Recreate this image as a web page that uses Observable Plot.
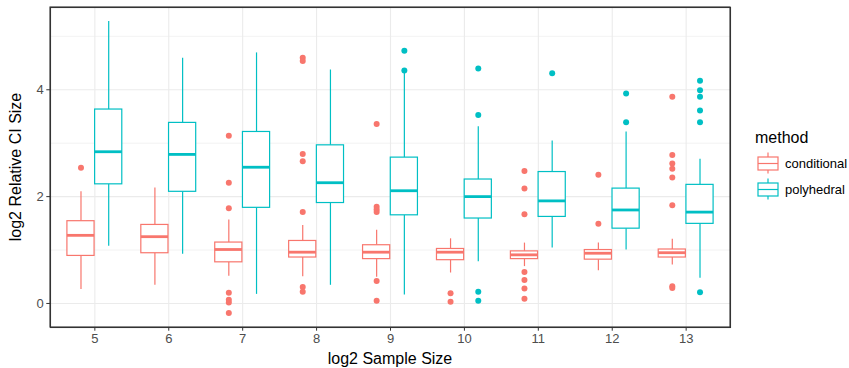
<!DOCTYPE html>
<html>
<head>
<meta charset="utf-8">
<script src="https://cdn.jsdelivr.net/npm/d3@7"></script>
<script src="https://cdn.jsdelivr.net/npm/@observablehq/plot@0.6"></script>
<style>
  html, body { margin: 0; padding: 0; background: #fff; overflow: hidden; }
  #chart { width: 849px; height: 368px; }
  #chart svg { display: block; max-width: none; }
</style>
</head>
<body>
<div id="chart"></div>
<script>
// ---- data ----
const sizes = [5, 6, 7, 8, 9, 10, 11, 12, 13];
const methods = ["conditional", "polyhedral"];
const colors = ["#F8766D", "#00BFC4"];

const condLo  = [0.26, 0.34, 0.51, 0.50, 0.49, 0.57, 0.69, 0.61, 0.72];
const condQ1  = [0.89, 0.94, 0.77, 0.86, 0.83, 0.81, 0.83, 0.82, 0.86];
const condMed = [1.275, 1.25, 1.01, 0.96, 0.96, 0.96, 0.91, 0.94, 0.95];
const condQ3  = [1.54, 1.47, 1.14, 1.17, 1.09, 1.02, 0.975, 1.00, 1.01];
const condHi  = [2.09, 2.16, 1.56, 1.46, 1.37, 1.21, 1.13, 1.13, 1.20];
const condOut = [
  [2.54], [], [3.14, 2.26, 1.78, 0.2, 0.07, 0.02, -0.18],
  [4.60, 4.54, 2.80, 2.66, 1.71, 0.31, 0.22],
  [3.36, 1.81, 1.76, 1.71, 0.42, 0.05], [0.19, 0.03],
  [2.48, 2.15, 1.67, 0.59, 0.44, 0.28, 0.09], [2.41, 1.49],
  [3.87, 2.78, 2.62, 2.52, 2.36, 1.84, 0.32, 0.29]
];

const polyLo  = [1.07, 0.92, 0.17, 0.34, 0.16, 0.78, 1.04, 1.00, 0.47];
const polyQ1  = [2.23, 2.09, 1.79, 1.88, 1.65, 1.59, 1.62, 1.40, 1.49];
const polyMed = [2.84, 2.79, 2.55, 2.26, 2.11, 2.00, 1.92, 1.75, 1.71];
const polyQ3  = [3.63, 3.38, 3.21, 2.96, 2.73, 2.32, 2.46, 2.15, 2.22];
const polyHi  = [5.28, 4.59, 4.69, 4.37, 4.33, 3.31, 3.04, 3.21, 2.70];
const polyOut = [
  [], [], [], [], [4.73, 4.36], [4.40, 3.53, 0.22, 0.05], [4.31],
  [3.93, 3.39], [4.17, 3.99, 3.87, 3.61, 3.39, 0.21]
];

const yTicks = [0, 2, 4];
const yMinor = [1, 3, 5];

// ---- build tables ----
const dodge = 0.1875; // half of a dodged box width (0.75 band / 2 groups / 2)
const series = [
  {m: methods[0], lo: condLo, q1: condQ1, med: condMed, q3: condQ3, hi: condHi, out: condOut, off: -dodge},
  {m: methods[1], lo: polyLo, q1: polyQ1, med: polyMed, q3: polyQ3, hi: polyHi, out: polyOut, off: dodge}
];
const boxes = [];
const outliers = [];
for (const s of series) {
  sizes.forEach((sz, i) => {
    const xc = sz + s.off;
    boxes.push({method: s.m, x: xc, x1: xc - dodge * 0.98, x2: xc + dodge * 0.98,
      lo: s.lo[i], q1: s.q1[i], med: s.med[i], q3: s.q3[i], hi: s.hi[i]});
    s.out[i].forEach(v => outliers.push({method: s.m, x: xc, y: v}));
  });
}

const grid = "#EBEBEB";
const ff = "'Liberation Sans', Arimo, Helvetica, Arial, sans-serif";
const mL = 50, mR = 119, mT = 7, mB = 41, W = 849, H = 368;
const chart = Plot.plot({
  width: W,
  height: H,
  marginLeft: mL,
  marginRight: mR,
  marginTop: mT,
  marginBottom: mB,
  style: {fontFamily: ff, background: "#fff", maxWidth: "none"},
  x: {domain: [4.4, 13.6]},
  y: {domain: [-0.45, 5.54]},
  color: {domain: methods, range: colors},
  marks: [
    Plot.gridY(yMinor, {stroke: grid, strokeOpacity: 1, strokeWidth: 0.6}),
    Plot.gridY(yTicks, {stroke: grid, strokeOpacity: 1, strokeWidth: 1.1}),
    Plot.gridX(sizes, {stroke: grid, strokeOpacity: 1, strokeWidth: 1.1}),
    Plot.ruleX(boxes, {x: "x", y1: "lo", y2: "q1", stroke: "method", strokeWidth: 1.2}),
    Plot.ruleX(boxes, {x: "x", y1: "q3", y2: "hi", stroke: "method", strokeWidth: 1.2}),
    Plot.rect(boxes, {x1: "x1", x2: "x2", y1: "q1", y2: "q3", fill: "white", stroke: "method", strokeWidth: 1.2}),
    Plot.ruleY(boxes, {x1: "x1", x2: "x2", y: "med", stroke: "method", strokeWidth: 2.8}),
    Plot.dot(outliers, {x: "x", y: "y", fill: "method", r: 3}),
    Plot.axisX(sizes, {tickSize: 3.7, tickPadding: 3, stroke: "#333", fill: "#4D4D4D", fontSize: 13, label: null, tickFormat: d => String(d)}),
    Plot.axisY(yTicks, {tickSize: 3.7, tickPadding: 3, stroke: "#333", fill: "#4D4D4D", fontSize: 13, label: null, tickFormat: d => String(d)}),
    Plot.frame({stroke: "#333", strokeWidth: 1.1, fill: "none"})
  ]
});
document.getElementById("chart").appendChild(chart);

// ---- panel border, titles & legend ----
const svg = d3.select(chart);
svg.append("rect").attr("x", mL).attr("y", mT).attr("width", W - mL - mR).attr("height", H - mT - mB)
  .attr("fill", "none").attr("stroke", "#333").attr("stroke-width", 1.1);
svg.append("text").attr("x", 390).attr("y", 364).attr("text-anchor", "middle")
  .attr("font-family", ff).attr("font-size", 16).attr("fill", "#000").text("log2 Sample Size");
svg.append("text").attr("transform", "translate(21,167) rotate(-90)").attr("text-anchor", "middle")
  .attr("font-family", ff).attr("font-size", 16).attr("fill", "#000").text("log2 Relative CI Size");

const lg = svg.append("g").attr("text-anchor", "start");
lg.append("text").attr("x", 755).attr("y", 143).attr("text-anchor", "start").attr("font-family", ff).attr("font-size", 16)
  .attr("fill", "#000").text("method");
methods.forEach((m, i) => {
  const cy = 163.5 + i * 26;
  const g = lg.append("g");
  g.append("line").attr("x1", 768).attr("x2", 768).attr("y1", cy - 11).attr("y2", cy + 10)
    .attr("stroke", colors[i]).attr("stroke-width", 1.2);
  g.append("rect").attr("x", 758).attr("y", cy - 6.5).attr("width", 20).attr("height", 13)
    .attr("fill", "white").attr("stroke", colors[i]).attr("stroke-width", 1.2);
  g.append("line").attr("x1", 758).attr("x2", 778).attr("y1", cy).attr("y2", cy)
    .attr("stroke", colors[i]).attr("stroke-width", 1.2);
  g.append("text").attr("x", 785).attr("y", cy + 4.5).attr("text-anchor", "start").attr("font-family", ff).attr("font-size", 13)
    .attr("fill", "#000").text(m);
});
</script>
</body>
</html>
